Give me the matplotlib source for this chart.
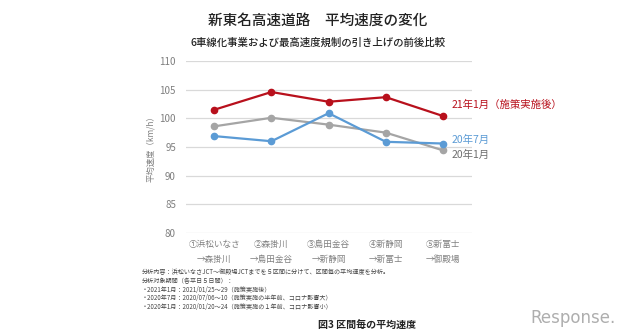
import matplotlib
matplotlib.use("Agg")
import matplotlib.pyplot as plt

plt.rcParams['font.family'] = ['Noto Sans CJK JP', 'DejaVu Sans']

sections = ["①浜松いなさ\n→森掛川", "②森掛川\n→島田金谷", "③島田金谷\n→新静岡",
            "④新静岡\n→新富士", "⑤新富士\n→御殿場"]
speed_2021_01 = [101.5, 104.6, 102.9, 103.7, 100.4]
speed_2020_07 = [96.9, 96.0, 100.9, 95.9, 95.6]
speed_2020_01 = [98.6, 100.1, 98.9, 97.5, 94.4]
series_names = ["21年1月（施策実施後）", "20年7月", "20年1月"]
y_ticks = [80, 85, 90, 95, 100, 105, 110]

notes = [
    "分析内容：浜松いなさJCT～御殿場JCTまでを５区間に分けて、区間毎の平均速度を分析。",
    "分析対象期間（各平日５日間）：",
    "・2021年1月：2021/01/25～29（施策実施後）",
    "・2020年7月：2020/07/06～10（施策実施の半年前、コロナ影響大）",
    "・2020年1月：2020/01/20～24（施策実施の１年前、コロナ影響小）",
]

RED = "#B8101C"
BLUE = "#5B9BD5"
GRAY = "#A5A5A5"
TEXT_GRAY = "#7F7F7F"

fig = plt.figure(figsize=(6.4, 3.34), dpi=100)
ax = fig.add_axes([0.290, 0.303, 0.447, 0.514])

x = list(range(len(sections)))
ax.plot(x, speed_2020_01, color=GRAY, lw=1.6, marker="o", ms=4.5, zorder=3)
ax.plot(x, speed_2020_07, color=BLUE, lw=1.6, marker="o", ms=4.5, zorder=4)
ax.plot(x, speed_2021_01, color=RED, lw=1.6, marker="o", ms=4.5, zorder=5)

ax.set_xlim(-0.5, len(sections) - 0.5)
ax.set_ylim(80, 110)
ax.set_yticks(y_ticks)
ax.set_xticks(x)
ax.set_xticklabels(sections, fontsize=6.2, color=TEXT_GRAY, linespacing=1.85)
ax.tick_params(axis="y", labelsize=7, colors=TEXT_GRAY, length=0, pad=7)
ax.tick_params(axis="x", length=0, pad=5)
ax.grid(axis="y", color="#D9D9D9", lw=0.9)
ax.set_axisbelow(True)
for s in ax.spines.values():
    s.set_visible(False)
ax.set_ylabel("平均速度（km/h）", fontsize=6, color=TEXT_GRAY, labelpad=3)

# Series labels at the right end of each line
ax.annotate(series_names[0], (4, speed_2021_01[-1]), xytext=(6, 8),
            textcoords="offset points", fontsize=7.5, color=RED, va="center")
ax.annotate(series_names[1], (4, speed_2020_07[-1]), xytext=(6, 2.5),
            textcoords="offset points", fontsize=7.5, color=BLUE, va="center")
ax.annotate(series_names[2], (4, speed_2020_01[-1]), xytext=(6, -3.5),
            textcoords="offset points", fontsize=7.5, color="#6E6E6E", va="center")

fig.text(0.497, 0.938, "新東名高速道路　平均速度の変化", ha="center", va="center",
         fontsize=10.5, color="#222222", fontweight="medium")
fig.text(0.497, 0.873, "6車線化事業および最高速度規制の引き上げの前後比較", ha="center",
         va="center", fontsize=7.5, color="#222222", fontweight="medium")

for i, line in enumerate(notes):
    fig.text(0.222, 1 - (272 + i * 8.8) / 334, line, ha="left", va="center",
             fontsize=4.4, color="#444444")

fig.text(0.573, 1 - 326 / 334, "図3 区間毎の平均速度", ha="center", va="center",
         fontsize=7.2, color="#222222", fontweight="bold")

fig.text(0.895, 1 - 318 / 334, "Response.", ha="center", va="center",
         fontsize=12, color="#9A9A9A", family="DejaVu Sans", alpha=0.8)

fig.savefig("out.png", dpi=100, facecolor="white")
